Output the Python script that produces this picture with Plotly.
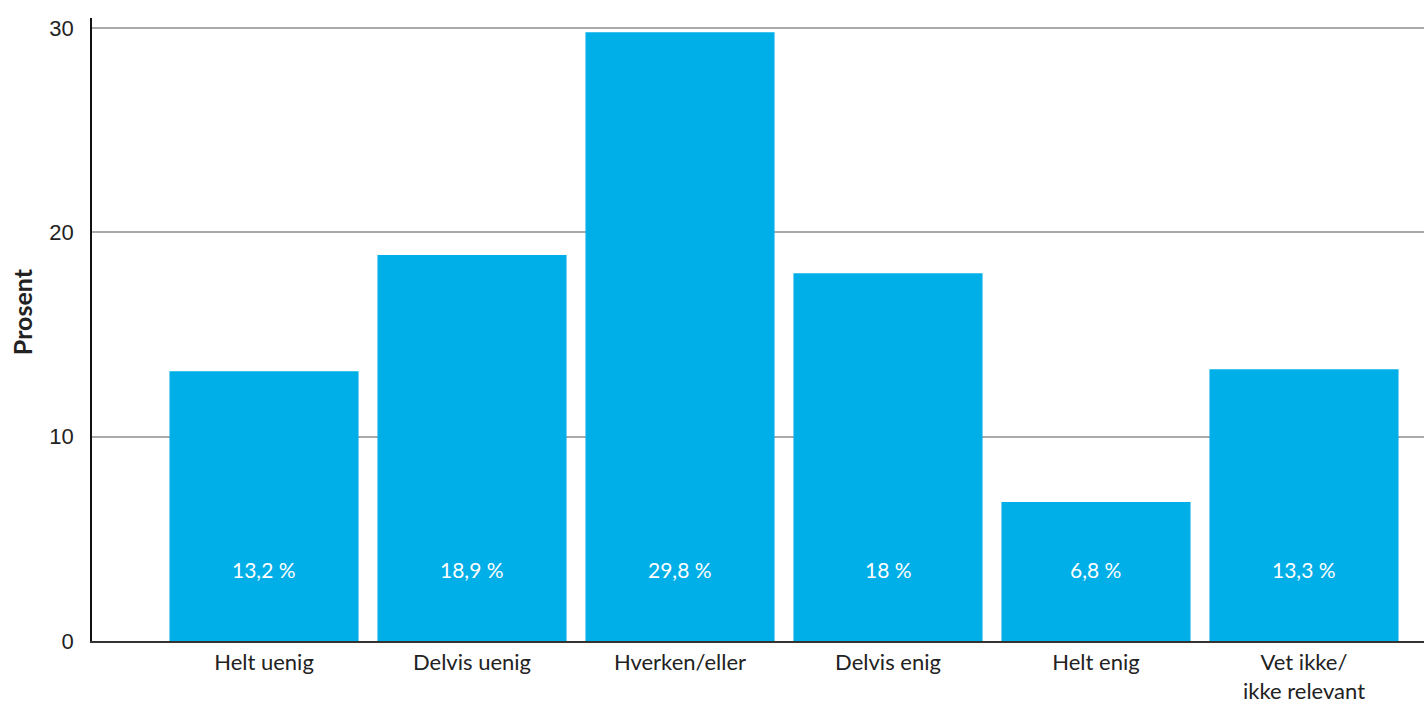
import plotly.graph_objects as go

categories = ["Helt uenig", "Delvis uenig", "Hverken/eller", "Delvis enig", "Helt enig", "Vet ikke/<br>ikke relevant"]
values = [13.2, 18.9, 29.8, 18.0, 6.8, 13.3]
value_labels = ["13,2 %", "18,9 %", "29,8 %", "18 %", "6,8 %", "13,3 %"]
y_ticks = [0, 10, 20, 30]

BAR = "#00AEE8"

fig = go.Figure()
fig.add_trace(go.Bar(
    x=list(range(len(categories))), y=values,
    marker=dict(color=BAR, line=dict(width=0)),
    hoverinfo="skip",
))

for i, lab in enumerate(value_labels):
    fig.add_annotation(x=i, y=3.5, text=lab, showarrow=False,
                       font=dict(family="Lato", size=21, color="white"),
                       xanchor="center", yanchor="middle")

fig.add_annotation(xref="paper", yref="paper", x=-0.0525, y=0.528,
                   text="<b>Prosent</b>", textangle=-90, showarrow=False,
                   font=dict(family="Lato", size=25, color="#222222"),
                   xanchor="center", yanchor="middle")

fig.update_layout(
    width=1424, height=704,
    margin=dict(l=92, r=0, t=18, b=63),
    plot_bgcolor="white", paper_bgcolor="white",
    bargap=0.091,
    showlegend=False,
    xaxis=dict(
        range=[-0.827, 5.577],
        tickmode="array", tickvals=list(range(len(categories))), ticktext=categories,
        showgrid=False, zeroline=False,
        showline=True, linecolor="#333333", linewidth=2,
        layer="below traces", automargin=False,
        ticks="", ticklabelstandoff=1,
        tickfont=dict(family="Lato", size=22, color="#222222"),
    ),
    yaxis=dict(
        range=[0, 30.5],
        tickmode="array", tickvals=y_ticks,
        showgrid=True, gridcolor="#AAAAAA", gridwidth=1.5,
        zeroline=False, automargin=False,
        showline=True, linecolor="#111111", linewidth=1.5,
        ticks="", ticklabelstandoff=12,
        tickfont=dict(family="Liberation Sans", size=22, color="#222222"),
    ),
)

fig.write_html("out.html",
               config={"displayModeBar": False},
               post_script="document.body.style.margin='0';document.body.style.overflow='hidden';")
